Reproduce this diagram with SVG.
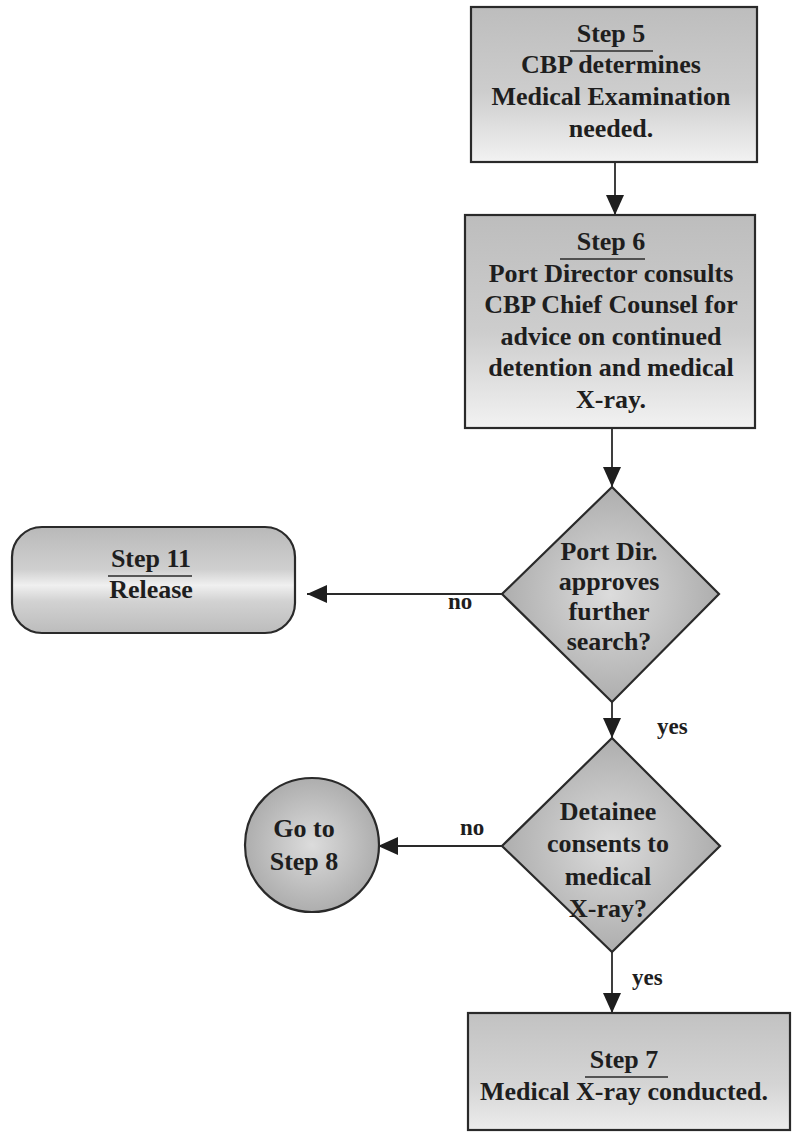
<svg xmlns="http://www.w3.org/2000/svg" width="796" height="1137" viewBox="0 0 796 1137">
<style>
.box{stroke:#2a2a2a;stroke-width:2.2}
.t{font-family:'Liberation Serif','DejaVu Serif','Times New Roman',serif;font-weight:700;font-size:26px;fill:#1e1e1e;text-anchor:middle}
.lbl{font-family:'Liberation Serif','DejaVu Serif','Times New Roman',serif;font-weight:700;font-size:23px;fill:#1e1e1e}
.ul{stroke:#2a2a2a;stroke-width:1.6}
.c{stroke:#2a2a2a;stroke-width:1.8;fill:none}
</style>
<defs>
<linearGradient id="gTop" x1="0" y1="0" x2="0" y2="1">
<stop offset="0" stop-color="#bdbdbd"/>
<stop offset="0.55" stop-color="#cdcdcd"/>
<stop offset="1" stop-color="#f2f2f2"/>
</linearGradient>
<linearGradient id="gBand" x1="0" y1="0" x2="0" y2="1">
<stop offset="0" stop-color="#b9b9b9"/>
<stop offset="0.4" stop-color="#cfcfcf"/>
<stop offset="0.55" stop-color="#f0f0f0"/>
<stop offset="0.7" stop-color="#d2d2d2"/>
<stop offset="1" stop-color="#bcbcbc"/>
</linearGradient>
<linearGradient id="gStep7" x1="0" y1="0" x2="0" y2="1">
<stop offset="0" stop-color="#c2c2c2"/>
<stop offset="0.6" stop-color="#d4d4d4"/>
<stop offset="1" stop-color="#ececec"/>
</linearGradient>
<radialGradient id="gRad" cx="0.5" cy="0.5" r="0.55">
<stop offset="0" stop-color="#dcdcdc"/>
<stop offset="1" stop-color="#a9a9a9"/>
</radialGradient>
<marker id="arr" viewBox="0 0 20 18" refX="20" refY="9" markerWidth="20" markerHeight="18" markerUnits="userSpaceOnUse" orient="auto">
<path d="M0,0 L20,9 L0,18 Z" fill="#1e1e1e"/>
</marker>
</defs>
<rect width="796" height="1137" fill="#ffffff"/>

<g id="connectors">
<line class="c" x1="615" y1="162" x2="615" y2="215" marker-end="url(#arr)"/>
<line class="c" x1="612" y1="428" x2="612" y2="487" marker-end="url(#arr)"/>
<line class="c" x1="502" y1="594" x2="307" y2="594" marker-end="url(#arr)"/>
<line class="c" x1="612" y1="702" x2="612" y2="738" marker-end="url(#arr)"/>
<line class="c" x1="502" y1="846" x2="378" y2="846" marker-end="url(#arr)"/>
<line class="c" x1="612" y1="952" x2="612" y2="1013" marker-end="url(#arr)"/>
<text class="lbl" x="448" y="609">no</text>
<text class="lbl" x="657" y="734">yes</text>
<text class="lbl" x="460" y="835">no</text>
<text class="lbl" x="632" y="985">yes</text>
</g>

<g id="step5">
<rect class="box" x="471" y="7" width="286" height="155" fill="url(#gTop)"/>
<text class="t" x="611" y="42">Step 5</text>
<line class="ul" x1="570" y1="51" x2="653" y2="51"/>
<text class="t" x="611" y="73">CBP determines</text>
<text class="t" x="611" y="105">Medical Examination</text>
<text class="t" x="611" y="137">needed.</text>
</g>

<g id="step6">
<rect class="box" x="465" y="215" width="290" height="213" fill="url(#gTop)"/>
<text class="t" x="611" y="250">Step 6</text>
<line class="ul" x1="560" y1="259" x2="645" y2="259"/>
<text class="t" x="611" y="282">Port Director consults</text>
<text class="t" x="611" y="313">CBP Chief Counsel for</text>
<text class="t" x="611" y="345">advice on continued</text>
<text class="t" x="611" y="376">detention and medical</text>
<text class="t" x="611" y="408">X-ray.</text>
</g>

<g id="decision1">
<polygon class="box" points="612,487 719,594 612,702 502,594" fill="url(#gRad)"/>
<text class="t" x="609" y="560">Port Dir.</text>
<text class="t" x="609" y="590">approves</text>
<text class="t" x="609" y="620">further</text>
<text class="t" x="609" y="650">search?</text>
</g>

<g id="step11">
<rect class="box" x="12" y="527" width="283" height="106" rx="30" ry="30" fill="url(#gBand)"/>
<text class="t" x="151" y="567">Step 11</text>
<line class="ul" x1="108" y1="576" x2="192" y2="576"/>
<text class="t" x="151" y="598">Release</text>
</g>

<g id="decision2">
<polygon class="box" points="612,738 720,846 612,952 502,846" fill="url(#gRad)"/>
<text class="t" x="608" y="820">Detainee</text>
<text class="t" x="608" y="852">consents to</text>
<text class="t" x="608" y="885">medical</text>
<text class="t" x="608" y="917">X-ray?</text>
</g>

<g id="goto8">
<circle class="box" cx="312" cy="845" r="67" fill="url(#gRad)"/>
<text class="t" x="304" y="837">Go to</text>
<text class="t" x="304" y="870">Step 8</text>
</g>

<g id="step7">
<rect class="box" x="468" y="1013" width="322" height="117" fill="url(#gStep7)"/>
<text class="t" x="624" y="1068">Step 7</text>
<line class="ul" x1="585" y1="1077" x2="668" y2="1077"/>
<text class="t" x="624" y="1100">Medical X-ray conducted.</text>
</g>
</svg>
